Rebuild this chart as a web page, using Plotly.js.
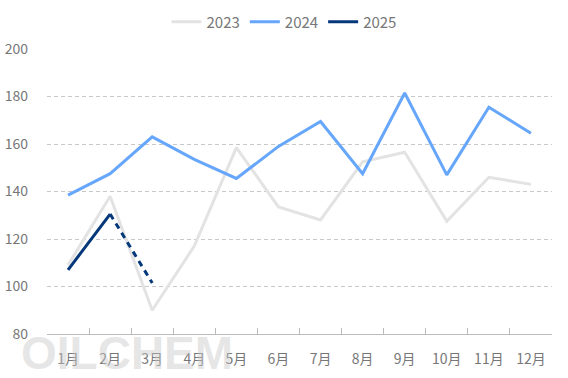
<!DOCTYPE html>
<html>
<head>
<meta charset="utf-8">
<script src="https://cdn.plot.ly/plotly-3.0.1.min.js"></script>
<style>html,body{margin:0;padding:0;background:#fff;}#chart{width:568px;height:378px;}</style>
</head>
<body>
<div id="chart"></div>
<script>
const months = ["1月","2月","3月","4月","5月","6月","7月","8月","9月","10月","11月","12月"];
const v2023 = [109, 138, 90, 117, 158.5, 133.5, 128, 152.5, 156.5, 127.5, 146, 143];
const v2024 = [138.5, 147.5, 163, 153.5, 145.5, 159, 169.5, 147.5, 181.5, 147, 175.5, 164.5];
const v2025 = [107, 130.5];
const v2025est = [null, 130.5, 101.5];

const traces = [
  {x: months, y: v2023, name: "2023", type: "scatter", mode: "lines",
   line: {color: "#e3e3e3", width: 3}},
  {x: months, y: v2024, name: "2024", type: "scatter", mode: "lines",
   line: {color: "#66a6fb", width: 3}},
  {x: months.slice(0, 2), y: v2025, name: "2025", type: "scatter", mode: "lines",
   line: {color: "#05387a", width: 3}},
  {x: months.slice(0, 3), y: v2025est, name: "2025", type: "scatter", mode: "lines",
   showlegend: false, line: {color: "#05387a", width: 3, dash: "6px,5px"}}
];

const layout = {
  width: 568, height: 378,
  margin: {l: 47, r: 16, t: 49, b: 44},
  paper_bgcolor: "#fff", plot_bgcolor: "#fff",
  font: {family: "'Noto Sans CJK SC', 'Noto Sans', sans-serif", size: 14, color: "#777"},
  showlegend: true,
  legend: {orientation: "h", xref: "container", yref: "container",
           x: 0.5, xanchor: "center", y: 0.942, yanchor: "middle",
           font: {size: 15, color: "#777"}, itemwidth: 30, tracegroupgap: 0},
  xaxis: {
    type: "category", tickson: "boundaries", ticks: "inside", ticklen: 6,
    tickcolor: "#bbb", showline: true, linecolor: "#bbb", linewidth: 1,
    showgrid: false, zeroline: false, ticklabelstandoff: 12,
    range: [-0.5, 11.5], fixedrange: true
  },
  yaxis: {
    range: [80, 200], dtick: 20, tick0: 80, showgrid: true, gridcolor: "#c8c8c8",
    griddash: "4px,3px", zeroline: false, showline: false, ticks: "",
    ticklabelstandoff: 18
  },
  annotations: [{
    text: "<b>OILCHEM</b>", xref: "paper", yref: "paper", x: -0.055, y: 0.0,
    xanchor: "left", yanchor: "top", yshift: 9, showarrow: false,
    font: {family: "'Liberation Sans', Arial, sans-serif", size: 46, color: "rgba(200,200,200,0.45)"}
  }]
};

Plotly.newPlot("chart", traces, layout, {displayModeBar: false, staticPlot: true});
</script>
</body>
</html>
